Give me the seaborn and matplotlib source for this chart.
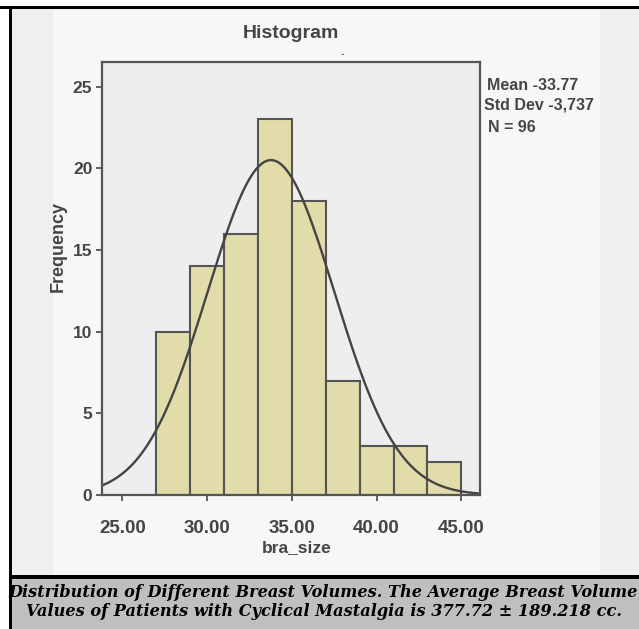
import numpy as np
import pandas as pd
import matplotlib.pyplot as plt
import matplotlib.patches as mpatches
import seaborn as sns

# Histogram bins
bin_edges = [27, 29, 31, 33, 35, 37, 39, 41, 43, 45]
counts = [10, 14, 16, 23, 18, 7, 3, 3, 2]

# Summary stats printed next to the plot
mean_val = 33.77
std_val = 3.737
n_total = 96

x_ticks = [25, 30, 35, 40, 45]
x_tick_labels = ['25.00', '30.00', '35.00', '40.00', '45.00']
y_ticks = [0, 5, 10, 15, 20, 25]

caption = ("Distribution of Different Breast Volumes. The Average Breast Volume\n"
           "Values of Patients with Cyclical Mastalgia is 377.72 \u00b1 189.218 cc.")

sns.set_theme(style='white')
plt.rcParams['font.family'] = ['Liberation Sans', 'DejaVu Sans']

txt_col = '#454545'
line_col = '#555555'

fig = plt.figure(figsize=(6.39, 6.29), dpi=100)
fig.patch.set_facecolor('white')

W, H = 639, 629


def px_rect(x0, y0, x1, y1, color):
    # rectangle given in pixel coords from the top-left corner, kept behind the axes
    r = mpatches.Rectangle((x0 / W, 1 - y1 / H), (x1 - x0) / W, (y1 - y0) / H,
                           transform=fig.transFigure, facecolor=color,
                           edgecolor='none', zorder=-5)
    fig.patches.append(r)


# frame and panel backgrounds
px_rect(10, 7, 639, 578, '#efefef')
px_rect(53, 10, 600, 575, '#f7f7f7')
px_rect(10, 579, 639, 629, '#bfbfbf')
px_rect(0, 6, 639, 9, 'black')
px_rect(9, 6, 12, 629, 'black')
px_rect(10, 575, 639, 579, 'black')

ax = fig.add_axes([102 / W, 1 - 495 / H, (480 - 102) / W, (495 - 62) / H])
ax.set_facecolor('#eeeeee')
ax.set_zorder(2)

df = pd.DataFrame({
    'bra_size': [(a + b) / 2 for a, b in zip(bin_edges[:-1], bin_edges[1:])],
    'count': counts,
})
sns.histplot(data=df, x='bra_size', weights='count', bins=bin_edges,
             color='#e1dca9', edgecolor=line_col, linewidth=1.5, alpha=1, ax=ax)

# normal curve from the reported mean / sd
bin_w = bin_edges[1] - bin_edges[0]
xs = np.linspace(23.8, 46.1, 300)
ys = n_total * bin_w * np.exp(-0.5 * ((xs - mean_val) / std_val) ** 2) / (std_val * np.sqrt(2 * np.pi))
sns.lineplot(x=xs, y=ys, color='#444444', linewidth=1.7, ax=ax)

ax.set_xlim(23.8, 46.1)
ax.set_ylim(0, 26.5)
ax.set_xticks(x_ticks)
ax.set_xticklabels(x_tick_labels)
ax.set_yticks(y_ticks)
ax.tick_params(axis='both', direction='out', length=4, width=1.3, color=line_col,
               labelcolor=txt_col, bottom=True, left=True)
ax.tick_params(axis='x', labelsize=13.5, pad=14)
ax.tick_params(axis='y', labelsize=12.5, pad=3)
for lab in ax.get_xticklabels() + ax.get_yticklabels():
    lab.set_fontweight('bold')
for sp in ax.spines.values():
    sp.set_visible(True)
    sp.set_color(line_col)
    sp.set_linewidth(1.6)

ax.set_xlabel('bra_size', fontsize=12.5, fontweight='bold', color=txt_col)
ax.set_ylabel('Frequency', fontsize=13, fontweight='bold', color=txt_col)
ax.yaxis.set_label_coords(-0.093, 0.575)
ax.xaxis.set_label_coords(0.516, -0.104)
ax.set_title('Histogram', fontsize=14, fontweight='bold', color=txt_col, pad=17)

fig.text(487 / W, 1 - 85 / H, 'Mean -33.77', fontsize=11.5, fontweight='bold',
         color=txt_col, va='center', ha='left')
fig.text(484 / W, 1 - 105 / H, 'Std Dev -3,737', fontsize=11.5, fontweight='bold',
         color=txt_col, va='center', ha='left')
fig.text(488 / W, 1 - 128 / H, 'N = 96', fontsize=11.5, fontweight='bold',
         color=txt_col, va='center', ha='left')
fig.text(342 / W, 1 - 54 / H, '-', fontsize=8, color=txt_col, ha='center', va='center')

fig.text(0.5 + 4 / W, 1 - 602 / H, caption, fontsize=11.6, fontweight='bold',
         fontstyle='italic', family='DejaVu Serif', color='black',
         ha='center', va='center', linespacing=1.15)

fig.savefig('out.png', dpi=100, facecolor=fig.get_facecolor())
